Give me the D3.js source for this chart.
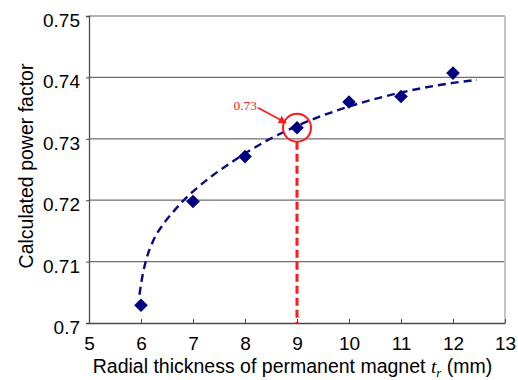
<!DOCTYPE html>
<html>
<head>
<meta charset="utf-8">
<script src="https://cdn.jsdelivr.net/npm/d3@7"></script>
<style>
  html, body { margin: 0; padding: 0; background: #fff; }
  svg { display: block; }
</style>
</head>
<body>
<svg id="chart" width="518" height="380" font-family="Liberation Sans, Arial, sans-serif"></svg>
<script>
// Calculated power factor versus magnet radial thickness
const thickness = [6, 7, 8, 9, 10, 11, 12];
const powerFactor = [0.7029, 0.7198, 0.7271, 0.7318, 0.7360, 0.7369, 0.7407];

// Trend curve through the data (dashed)
const trendX = [5.97, 6.04, 6.10, 6.23, 6.42, 6.62, 6.81, 7.08, 7.39, 7.71, 7.96, 8.42, 9.0, 9.98, 10.98, 12.0, 12.46];
const trendY = [0.7046, 0.7082, 0.7103, 0.7133, 0.7160, 0.7181, 0.7199, 0.7220, 0.7241, 0.7260, 0.7274, 0.7297, 0.7321, 0.7352, 0.7375, 0.7391, 0.7396];

const xTicks = [5, 6, 7, 8, 9, 10, 11, 12, 13];
const yTicks = [0.70, 0.71, 0.72, 0.73, 0.74, 0.75];
const yTickLabels = ["0.7", "0.71", "0.72", "0.73", "0.74", "0.75"];

// Highlighted design point
const selectedThickness = 9;

const svg = d3.select("#chart");
const plotLeft = 89, plotRight = 505, plotTop = 16, plotBottom = 323;

const x = d3.scaleLinear().domain([5, 13]).range([plotLeft, plotRight]);
const y = d3.scaleLinear().domain([0.70, 0.75]).range([plotBottom, plotTop]);

// horizontal grid lines
svg.append("g").selectAll("line")
  .data(yTicks.slice(1, -1))
  .join("line")
  .attr("x1", plotLeft).attr("x2", plotRight)
  .attr("y1", d => y(d)).attr("y2", d => y(d))
  .attr("stroke", "#6e6e6e").attr("stroke-width", 1.3);

// frame: top and right in light grey
svg.append("line").attr("x1", plotLeft).attr("x2", plotRight).attr("y1", y(0.75)).attr("y2", y(0.75))
  .attr("stroke", "#9a9a9a").attr("stroke-width", 1.3);
svg.append("line").attr("x1", plotRight).attr("x2", plotRight).attr("y1", plotTop).attr("y2", plotBottom)
  .attr("stroke", "#c4c4c4").attr("stroke-width", 2);

// axes
const xAxis = d3.axisBottom(x).tickValues(xTicks).tickSizeInner(-4).tickSizeOuter(0).tickPadding(14);
const yAxis = d3.axisLeft(y).tickValues(yTicks).tickSize(3).tickPadding(6)
  .tickFormat((d, i) => yTickLabels[i]);

const gx = svg.append("g").attr("transform", `translate(0,${plotBottom})`).call(xAxis);
const gy = svg.append("g").attr("transform", `translate(${plotLeft},0)`).call(yAxis);

[gx, gy].forEach(g => {
  g.attr("font-family", "Liberation Sans, Arial, sans-serif").attr("font-size", 19);
  g.select(".domain").attr("stroke", "#4a4a4a").attr("stroke-width", 1.3);
  g.selectAll(".tick line").attr("stroke", "#4a4a4a").attr("stroke-width", 1);
  g.selectAll(".tick text").attr("fill", "#000");
});
gy.selectAll(".tick text").attr("dy", "0.55em");
gx.selectAll(".tick text").attr("dy", "0.71em");

// axis titles
svg.append("text")
  .attr("transform", `translate(33,${(57 + 275) / 2}) rotate(-90)`)
  .attr("text-anchor", "middle")
  .attr("font-size", 19.5)
  .attr("fill", "#000")
  .text("Calculated power factor");

const xt = svg.append("text")
  .attr("x", (95 + 490) / 2).attr("y", 373)
  .attr("text-anchor", "middle")
  .attr("font-size", 19.5)
  .attr("fill", "#000");
xt.append("tspan").text("Radial thickness of permanent magnet ");
xt.append("tspan").attr("font-family", "Liberation Serif, Times New Roman, serif")
  .attr("font-style", "italic").text("t");
xt.append("tspan").attr("font-family", "Liberation Serif, Times New Roman, serif")
  .attr("font-style", "italic").attr("font-size", 13).attr("dy", 4).text("r");
xt.append("tspan").attr("dy", -4).text(" (mm)");

// dashed trend curve
const trend = trendX.map((d, i) => [d, trendY[i]]);
svg.append("path")
  .datum(trend)
  .attr("fill", "none")
  .attr("stroke", "#0a0a80")
  .attr("stroke-width", 2.4)
  .attr("stroke-dasharray", "8,5")
  .attr("d", d3.line().x(d => x(d[0])).y(d => y(d[1])).curve(d3.curveMonotoneX));

// data markers (diamonds)
const pts = thickness.map((d, i) => ({ t: d, pf: powerFactor[i] }));
svg.append("g").selectAll("path")
  .data(pts)
  .join("path")
  .attr("transform", d => `translate(${x(d.t)},${y(d.pf)})`)
  .attr("d", "M0,-6.8L6.8,0L0,6.8L-6.8,0Z")
  .attr("fill", "#000080");

// highlight of the selected design point
const sel = pts.find(d => d.t === selectedThickness);
const cx = x(sel.t), cy = y(sel.pf), r = 14;

svg.append("line")
  .attr("x1", cx).attr("x2", cx)
  .attr("y1", cy + r).attr("y2", plotBottom)
  .attr("stroke", "#ff1a1a").attr("stroke-width", 3)
  .attr("stroke-dasharray", "8,4");

svg.append("circle")
  .attr("cx", cx).attr("cy", cy).attr("r", r)
  .attr("fill", "none").attr("stroke", "#ff1a1a").attr("stroke-width", 2);

svg.append("defs").append("marker")
  .attr("id", "arrow")
  .attr("viewBox", "0 0 10 10")
  .attr("refX", 9).attr("refY", 5)
  .attr("markerWidth", 5).attr("markerHeight", 5)
  .attr("orient", "auto")
  .append("path").attr("d", "M0,0L10,5L0,10Z").attr("fill", "#ff1a1a");

svg.append("line")
  .attr("x1", cx - 39).attr("y1", cy - 20)
  .attr("x2", cx - 11).attr("y2", cy - 5)
  .attr("stroke", "#ff1a1a").attr("stroke-width", 1.6)
  .attr("marker-end", "url(#arrow)");

svg.append("text")
  .attr("x", cx - 40).attr("y", cy - 18)
  .attr("text-anchor", "end")
  .attr("font-family", "Liberation Serif, Times New Roman, serif")
  .attr("font-size", 13.5)
  .attr("fill", "#ff2020")
  .text(d3.format(".2f")(sel.pf));
</script>
</body>
</html>
